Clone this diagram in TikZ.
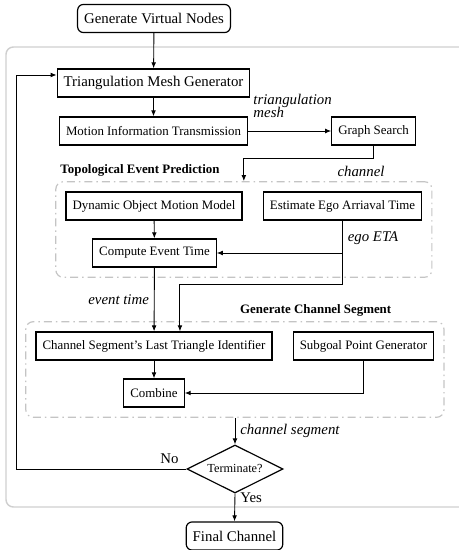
\documentclass[tikz,border=0pt]{standalone}
\usepackage{fontspec}
\setmainfont{Liberation Serif}
\usetikzlibrary{arrows.meta,positioning,calc,fit,shapes.geometric}
\usepackage{xcolor}
\definecolor{framegray}{HTML}{CFCFCF}
\definecolor{groupgray}{HTML}{C4C4C4}
\newcommand{\boxfont}{\fontsize{8.7pt}{10pt}\selectfont}
\tikzset{
  block/.style     = {draw, thick, rectangle, minimum height=19pt,
                      inner xsep=4.4pt, align=center},
  mainblock/.style = {block, font=\fontsize{10pt}{12pt}\selectfont},
  subblock/.style  = {block, font=\boxfont},
  endblock/.style  = {mainblock, rounded corners=4pt},
  decision/.style  = {draw, thick, diamond, aspect=2, inner sep=0pt,
                      minimum width=64.8pt, minimum height=32.4pt,
                      font=\fontsize{8.3pt}{10pt}\selectfont},
  groupbox/.style  = {draw=groupgray, thick, rounded corners=5pt, inner sep=6.5pt,
                      dash pattern=on 5.4pt off 2.7pt on 1pt off 2.7pt},
  heading/.style   = {font=\boxfont\bfseries},
  flowlbl/.style   = {font=\itshape},
  sig/.style       = {-{Latex[length=4pt,width=3.2pt]}, semithick},
}

\begin{document}
\begin{tikzpicture}[x=0.675pt,y=-0.675pt,font=\fontsize{10pt}{12pt}\selectfont]
\useasboundingbox (0,0) rectangle (458,550);
% ---- outer loop frame ----
\draw[framegray, line width=1pt, rounded corners=5pt] (6,47) rectangle (470,507);
% ---- main chain ----
\node[endblock] (gvn) at (154,18.5) {Generate Virtual Nodes};
\node[mainblock] (tmg) at (153.5,83) {Triangulation Mesh Generator};
\node[subblock] (mit) at (153.5,131) {Motion Information Transmission};
\node[subblock] (gs) at (373.5,131) {Graph Search};
\draw[sig] (gvn) -- (tmg);
\draw[sig] (tmg) -- (mit);
\draw[sig] (mit) -- node[flowlbl, pos=0, anchor=south west, align=left, yshift=5.7pt] (meshlbl)
  {triangulation\\[-3.5pt]mesh} (gs);
% ---- topological event prediction ----
\node[subblock] (dom) at (154,206) {Dynamic Object Motion Model};
\node[subblock] (eta) at (342.5,206) {Estimate Ego Arriaval Time};
\node[subblock] (cet) at (154.5,253) {Compute Event Time};
\node[groupbox, fit=(dom)(eta)(cet)] (tep) {};
\node[heading, above right] (teplbl) at (tep.north west) {Topological Event Prediction};
\draw[sig] (gs.south) -- ++(0,13) -| (tep.north);
\node[flowlbl] (chlbl) at (361,171) {channel};
\draw[sig] (dom) -- (cet);
\draw[sig] (eta.south) |- node[flowlbl, right, pos=0.27] (etalbl) {ego ETA} (cet.east);
% ---- generate channel segment ----
\node[subblock] (lti) at (154,346) {Channel Segment's Last Triangle Identifier};
\node[subblock] (spg) at (363.5,346) {Subgoal Point Generator};
\node[subblock] (comb) at (154,393) {Combine};
\node[groupbox, fit=(lti)(spg)(comb)] (gcs) {};
\node[heading, above right] (gcslbl) at (gcs.north) {Generate Channel Segment};
\draw[sig] (eta.south) -- ++(0,64) -| ([xshift=17.5pt]lti.north);
\draw[sig] (cet) -- node[flowlbl, left] (evlbl) {event time} (lti);
\draw[sig] (lti) -- (comb);
\draw[sig] (spg.south) |- (comb.east);
% ---- decision and exit ----
\node[decision] (term) at (235,469) {Terminate?};
\node[endblock] (fin) at (234.5,536) {Final Channel};
\draw[sig] (term.north |- gcs.south) -- node[flowlbl, right] (cslbl) {channel segment} (term.north);
\coordinate (back) at (16,75);
\draw[sig] (term.west) -- node[above, pos=0.1] (nolbl) {No} (term.west -| back) -- (back)
  -- (back -| tmg.west);
\draw[sig] (term.south) -- node[right, pos=0.15] (yeslbl) {Yes} (fin.north);
\end{tikzpicture}
\end{document}
